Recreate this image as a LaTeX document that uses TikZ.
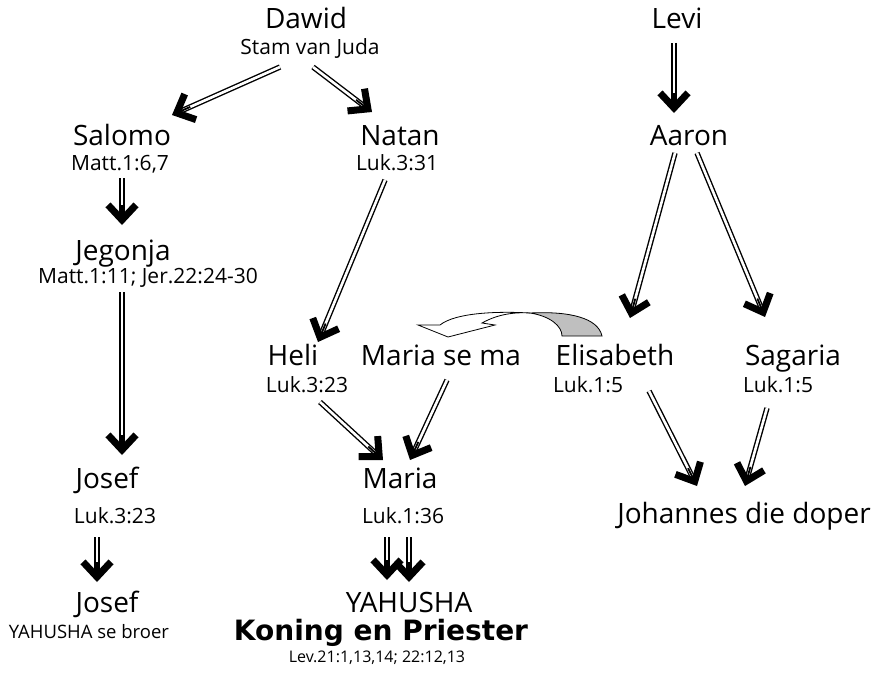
\documentclass[tikz,border=0pt]{standalone}
\usepackage{fontspec}
\setmainfont{Open Sans}
\newfontfamily\boldfam{DejaVu Sans}
\usetikzlibrary{arrows.meta,calc}
\newcommand\darr[2]{\draw[dshaft] (#1) -- ($(#2)!9pt!(#1)$); \draw[dtip] ($(#2)!20pt!(#1)$) -- (#2);}
\begin{document}
\begin{tikzpicture}[x=1pt,y=-1pt,
  nm/.style={font=\fontsize{28}{32}\selectfont, inner sep=0pt, anchor=base},
  rf/.style={font=\fontsize{21}{24}\selectfont, inner sep=0pt, anchor=base},
  dshaft/.style={draw=black, double=white, line width=1.4pt, double distance=2.6pt},
  dtip/.style={draw=black, line width=1.8pt, -{Straight Barb[length=15pt,width=28pt,line width=7pt]}},
  ribbon/.style={draw=black, line width=0.8pt}
]
\useasboundingbox (0,0) rectangle (877,677);
% names
\node[nm] (dawid) at (306,29) {Dawid};
\node[rf] (dawidr) at (310,55) {Stam van Juda};
\node[nm] (salomo) at (122,145) {Salomo};
\node[rf] (salomor) at (120,170) {Matt.1:6,7};
\node[nm] (jegonja) at (123,260) {Jegonja};
\node[rf] (jegonjar) at (148,283) {Matt.1:11; Jer.22:24-30};
\node[nm] (natan) at (400,145) {Natan};
\node[rf] (natanr) at (397,170) {Luk.3:31};
\node[nm] (heli) at (293,365) {Heli};
\node[rf] (helir) at (307,392) {Luk.3:23};
\node[nm] (mariama) at (441,365) {Maria se ma};
\node[nm] (elisabeth) at (615,365) {Elisabeth};
\node[rf] (elisabethr) at (588,392) {Luk.1:5};
\node[nm] (sagaria) at (793,365) {Sagaria};
\node[rf] (sagariar) at (778,392) {Luk.1:5};
\node[nm] (josef) at (107,488) {Josef};
\node[rf] (josefr) at (115,523) {Luk.3:23};
\node[nm] (maria) at (400,488) {Maria};
\node[rf] (mariar) at (403,523) {Luk.1:36};
\node[nm] (johannes) at (744,523) {Johannes die doper};
\node[nm] (josefb) at (107,612) {Josef};
\node[rf, font=\fontsize{18.5}{22}\selectfont] (josefbr) at (89,638) {YAHUSHA se broer};
\node[nm] (yahusha) at (409,612) {YAHUSHA};
\node[nm, font=\fontsize{28}{32}\selectfont\boldfam\bfseries] (koning) at (381,640) {Koning en Priester};
\node[rf, font=\fontsize{16}{19}\selectfont] (lev) at (377,662) {Lev.21:1,13,14; 22:12,13};
\node[nm] (levi) at (677,29) {Levi};
\node[nm] (aaron) at (689,145) {Aaron};
% arrow end points
\coordinate (dawid-l) at (280,67);   \coordinate (salomo-t) at (172,115);
\coordinate (dawid-r) at (313,67);   \coordinate (natan-t) at (372,112);
\coordinate (salomo-b) at (122,178); \coordinate (jegonja-t) at (122,225);
\coordinate (jegonja-b) at (122,292);\coordinate (josef-t) at (122,455);
\coordinate (josef-b) at (97,537);   \coordinate (josefb-t) at (97,582);
\coordinate (natan-b) at (385,180);  \coordinate (heli-t) at (318,342);
\coordinate (heli-b) at (320,402);   \coordinate (maria-tl) at (383,460);
\coordinate (mariama-b) at (447,380);\coordinate (maria-tr) at (410,460);
\coordinate (maria-bl) at (387,537); \coordinate (yahusha-tl) at (387,580);
\coordinate (maria-br) at (409,537); \coordinate (yahusha-tr) at (409,582);
\coordinate (levi-b) at (674,43);    \coordinate (aaron-t) at (674,113);
\coordinate (aaron-bl) at (675,153); \coordinate (elisabeth-t) at (630,318);
\coordinate (aaron-br) at (697,153); \coordinate (sagaria-t) at (765,317);
\coordinate (elisabeth-b) at (649,391); \coordinate (johannes-tl) at (697,486);
\coordinate (sagaria-b) at (767,408);   \coordinate (johannes-tr) at (745,486);
% arrows
\darr{dawid-l}{salomo-t}
\darr{dawid-r}{natan-t}
\darr{salomo-b}{jegonja-t}
\darr{jegonja-b}{josef-t}
\darr{josef-b}{josefb-t}
\darr{natan-b}{heli-t}
\darr{heli-b}{maria-tl}
\darr{mariama-b}{maria-tr}
\darr{maria-bl}{yahusha-tl}
\darr{maria-br}{yahusha-tr}
\darr{levi-b}{aaron-t}
\darr{aaron-bl}{elisabeth-t}
\darr{aaron-br}{sagaria-t}
\darr{elisabeth-b}{johannes-tl}
\darr{sagaria-b}{johannes-tr}
% curved block arrow from Elisabeth to Maria se ma
\filldraw[ribbon, fill=black!25] (602,336) .. controls (598,318) and (570,311) .. (530,313)
   .. controls (550,316) and (562,326) .. (562,336) -- cycle;
\filldraw[ribbon, fill=white] (418,325) -- (448,337) -- (495,325) -- (482,323)
   .. controls (498,314) and (515,312) .. (530,313)
   .. controls (495,311) and (455,313) .. (440,325) -- cycle;
\end{tikzpicture}
\end{document}
